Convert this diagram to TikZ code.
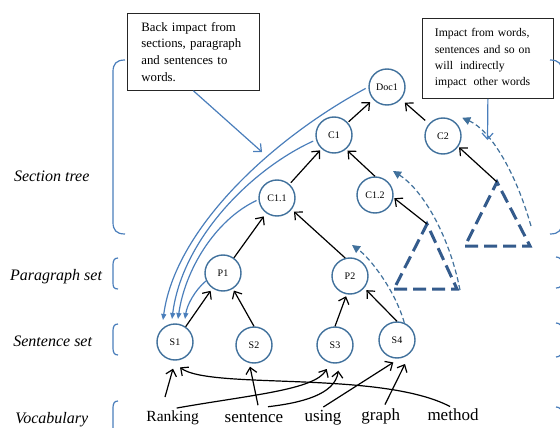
\documentclass[tikz,border=0pt]{standalone}
\usepackage{fontspec}
\setmainfont{Liberation Serif}
\usetikzlibrary{arrows.meta,calc}
\definecolor{circ}{HTML}{41719C}
\definecolor{lblue}{HTML}{4A7EBB}
\definecolor{dblue}{HTML}{345B8C}
\tikzset{
  unit/.style={circle, draw=circ, line width=1.4pt, minimum size=36pt, inner sep=0pt, font=\fontsize{10}{12}\selectfont},
  word/.style={inner sep=0pt, anchor=base, font=\fontsize{17}{20}\selectfont},
  level/.style={inner sep=0pt, anchor=base, font=\fontsize{16}{19}\selectfont\itshape},
  blk/.style={line width=1.2pt, -{Straight Barb[length=6pt,width=11pt]}},
  bluearr/.style={lblue, line width=1.2pt, -{Straight Barb[length=6pt,width=11pt]}},
  back/.style={lblue, line width=1.2pt, -{Triangle[length=6pt,width=5pt]}},
  prop/.style={circ, line width=1.2pt, dash pattern=on 5pt off 3pt, -{Triangle[length=8pt,width=8pt]}},
  tri/.style={dblue, line width=3pt, dash pattern=on 13pt off 6pt},
  lvbrace/.style={lblue, line width=1.2pt},
  note/.style={draw=black!85, line width=0.8pt, align=left, anchor=north west, inner ysep=0pt}
}
\begin{document}
\begin{tikzpicture}[x=1pt,y=-1pt]
\useasboundingbox (0,0) rectangle (560,428);
\clip (0,0) rectangle (560,428);

% notes
\node[note, minimum height=77pt, text width=104pt, inner xsep=14pt,
      font=\fontsize{12.8}{16.7}\selectfont] (box1) at (127,13)
  {Back impact from\\sections, paragraph\\and sentences to\\words.};
\node[note, minimum height=80pt, text width=106pt, inner xsep=12.5pt,
      font=\fontsize{11.7}{16.2}\selectfont] (box2) at (422,18)
  {Impact from words,\\sentences and so on\\will\hspace{3pt} indirectly\\impact\hspace{3pt} other words};

% tree nodes
\node[unit] (Doc1) at (387,87) {Doc1};
\node[unit] (C1) at (334,135) {C1};
\node[unit] (C2) at (443,136) {C2};
\node[unit] (C11) at (277,198) {C1.1};
\node[unit] (C12) at (375,195) {C1.2};
\node[unit] (P1) at (223,273) {P1};
\node[unit] (P2) at (350,276) {P2};
\node[unit] (S1) at (175,342) {S1};
\node[unit] (S2) at (254,345) {S2};
\node[unit] (S3) at (335,345) {S3};
\node[unit] (S4) at (397,340) {S4};

% words
\node[word, font=\fontsize{15.5}{18}\selectfont] (rank) at (172.7,421) {Ranking};
\node[word] (sent) at (254,422) {sentence};
\node[word] (using) at (323,421.5) {using};
\node[word] (graph) at (380.7,420.5) {graph};
\node[word] (method) at (453,420.5) {method};

% level labels
\node[level] (lsec) at (51.7,181.7) {Section tree};
\node[level] (lpar) at (56,280.7) {Paragraph set};
\node[level] (lsen) at (52.7,346.7) {Sentence set};
\node[level] (lvoc) at (51.7,423.3) {Vocabulary};

% braces left
\draw[lvbrace] (125,60) .. controls (116,60) and (113,64) .. (113,72) -- (113,222) .. controls (113,230) and (116,234) .. (125,234);
\draw[lvbrace] (118,258) .. controls (114,258) and (113,261) .. (113,265) -- (113,283) .. controls (113,287) and (114,289) .. (118,289);
\draw[lvbrace] (118,324) .. controls (114,324) and (113,327) .. (113,331) -- (113,348) .. controls (113,352) and (114,355) .. (118,355);
\draw[lvbrace] (118,401) .. controls (114,401) and (113,404) .. (113,408) -- (113,440);
% braces right
\draw[lvbrace] (550,60) .. controls (559,60) and (562,64) .. (562,72) -- (562,222) .. controls (562,230) and (559,234) .. (550,234);
\draw[lvbrace] (556,257) .. controls (560,257) and (562,260) .. (562,264) -- (562,282) .. controls (562,286) and (560,288) .. (556,288);
\draw[lvbrace] (556,323) .. controls (560,323) and (562,326) .. (562,330) -- (562,350) .. controls (562,354) and (560,357) .. (556,357);
\draw[lvbrace] (556,407) .. controls (560,407) and (562,410) .. (562,414) -- (562,440);

% triangles
\coordinate (tA) at (497,182);
\coordinate (tB) at (427,224);
\draw[tri] (465,246) -- (530,246) -- (tA) -- cycle;
\draw[tri] (394,289) -- (457,289) -- (tB) -- cycle;

% tree arrows
\draw[blk, shorten <=1pt, shorten >=4pt] (C1) -- (Doc1);
\draw[blk, shorten <=5pt, shorten >=5pt] (C2) -- (Doc1);
\draw[blk, shorten <=2pt, shorten >=2pt] (C11) -- (C1);
\draw[blk, shorten >=2pt] (C12.north) -- (C1.-50);
\draw[blk, shorten >=4pt] (P1) -- (C11);
\draw[blk, shorten >=3pt] (P2.105) -- (C11.-38);
\draw[blk, shorten >=3pt] (S1) -- (P1);
\draw[blk, shorten >=2pt] (S2.north) -- (P1.-58);
\draw[blk, shorten >=2pt] (S3.north) -- (P2.-100);
\draw[blk, shorten >=3pt] (S4.north) -- (P2.-40);
\draw[blk, shorten >=1pt] (tA) -- (C2.-35);
\draw[blk, shorten >=1pt] (tB) -- (C12.-8);

% word arrows
\draw[blk] ($(rank.north)+(-7.7,-13)$) -- ($(S1.south)+(-2,8)$);
\draw[blk] ($(rank.north)+(4,-2)$) .. controls (250,395) and (315,390) .. ($(S3.south)+(-8.3,5.3)$);
\draw[blk] ($(sent.north)+(4,-7)$) -- ($(S2.south)+(-4,3)$);
\draw[blk] ($(sent.north)+(14,-5.5)$) .. controls (300,403) and (335,395) .. ($(S3.south)+(3.3,7)$);
\draw[blk] ($(using.north)+(0.3,-3)$) -- ($(S4.south)+(-3.7,3.7)$);
\draw[blk] ($(graph.north)+(4.3,-4)$) -- ($(S4.south)+(8,5.3)$);
\draw[blk] ($(method.north)+(-3,-2)$) .. controls (380,370) and (210,390) .. ($(S1.south)+(5,6.7)$);

% back impact curves
\draw[back, shorten <=3pt] (Doc1.west) .. controls (270,140) and (175,230) .. ($(S1)+(-12,-22)$);
\draw[back, shorten <=3pt] (C1.-165) .. controls (250,170) and (182,240) .. ($(S1)+(-3,-23)$);
\draw[back, shorten <=2pt] (C11.-175) .. controls (215,220) and (185,270) .. ($(S1)+(3,-23)$);
\draw[back] (P1.-155) .. controls (195,290) and (187,305) .. ($(S1)+(10,-23)$);

% propagation arcs
\coordinate (aA) at (531,226);
\coordinate (aB) at (460,290);
\draw[prop] (aA) .. controls (515,170) and (490,130) .. ($(C2.45)+(6,-5)$);
\draw[prop] (aB) .. controls (448,230) and (420,188) .. ($(C12)+(18,-24)$);
\draw[prop] (S4.67) .. controls (395,290) and (370,258) .. ($(P2)+(2,-31)$);

% note connectors
\coordinate (b1end) at (262,152);
\coordinate (b2end) at (487.5,140);
\draw[bluearr] (box1.south) -- (b1end);
\draw[bluearr] (box2.south) -- (b2end);
\end{tikzpicture}
\end{document}
